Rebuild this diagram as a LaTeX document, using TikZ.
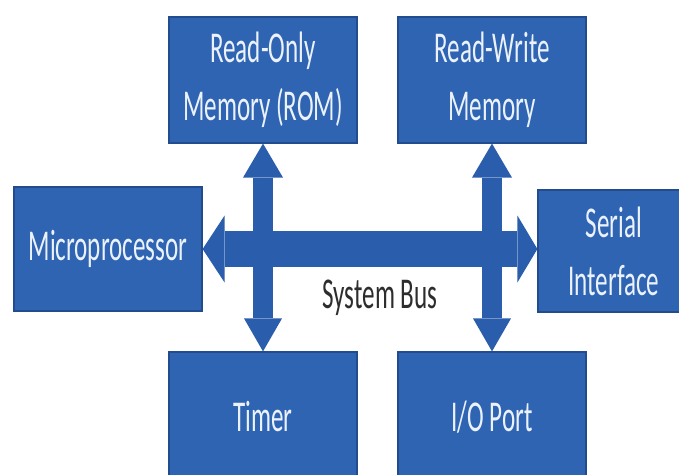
\documentclass[tikz,border=0pt]{standalone}
\usepackage{fontspec}
\setmainfont{Carlito}[FakeStretch=0.57]
\usetikzlibrary{arrows.meta}
\definecolor{boxblue}{RGB}{46,100,178}
\definecolor{boxedge}{RGB}{34,76,142}
\definecolor{busblue}{RGB}{42,94,172}
\definecolor{labelgray}{RGB}{45,45,45}
\definecolor{boxtext}{RGB}{235,242,252}
\begin{document}
\begin{tikzpicture}[x=1pt,y=-1pt,
  blk/.style={draw=boxedge, line width=1.2pt, fill=boxblue, text=boxtext,
    align=center, inner sep=0pt, font=\fontsize{44}{58}\selectfont,
    minimum height=126pt, minimum width=188pt},
  vbus/.style={draw=busblue, fill=busblue, line width=20pt, {Triangle[length=34pt,width=40pt,line width=0pt]}-{Triangle[length=33pt,width=38pt,line width=0pt]}},
  hbus/.style={draw=busblue, fill=busblue, line width=36pt, {Triangle[length=22pt,width=67pt,line width=0pt]}-{Triangle[length=20pt,width=67pt,line width=0pt]}},
  buslabel/.style={text=labelgray, font=\fontsize{44}{58}\selectfont, inner sep=0pt}
]
\useasboundingbox (0,0) rectangle (679,474);
\fill[white] (0,0) rectangle (679,474);
\clip (0,0) rectangle (679,474);
\node[blk] (rom) at (263,80) {Read-Only\\Memory (ROM)};
\node[blk] (rwm) at (492,80) {Read-Write\\Memory};
\node[blk, minimum height=124pt] (mp) at (108,249) {Microprocessor};
\node[blk, minimum height=122pt, minimum width=152pt] (si) at (614,251) {Serial\\Interface};
\node[blk, minimum height=132pt] (timer) at (263,418) {\raisebox{4pt}{Timer}};
\node[blk, minimum height=132pt] (io) at (492,418) {\raisebox{4pt}{I/O Port}};
\node[buslabel] (lbl) at (380,298) {System Bus};
\draw[hbus] (mp.east) -- (mp.east -| si.west);
\draw[vbus] (rom.south) -- (timer.north);
\draw[vbus] (rwm.south) -- (io.north);
\end{tikzpicture}
\end{document}
